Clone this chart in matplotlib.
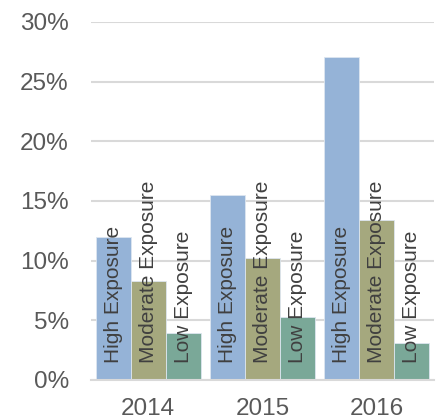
import numpy as np
import matplotlib.pyplot as plt
from matplotlib.ticker import FuncFormatter

plt.rcParams['font.family'] = ['Liberation Sans', 'DejaVu Sans']

years = ['2014', '2015', '2016']
series = ['High Exposure', 'Moderate Exposure', 'Low Exposure']
high = [0.120, 0.155, 0.271]
moderate = [0.083, 0.102, 0.134]
low = [0.039, 0.053, 0.031]
colors = ['#95b3d7', '#a5a87e', '#7aa898']

fig = plt.figure(figsize=(4.41, 4.16), dpi=100)
ax = fig.add_axes([91 / 441, 1 - 380 / 416, 343 / 441, 358 / 416])

x = np.arange(len(years))
w = 0.307
for i, (name, vals) in enumerate(zip(series, [high, moderate, low])):
    pos = x + (i - 1) * w
    ax.bar(pos, vals, width=w, color=colors[i], edgecolor='#dde6f0',
           linewidth=0.6, zorder=2)
    for p in pos:
        ax.text(p, 0.0145, name, rotation=90, ha='center', va='bottom',
                fontsize=15, color='#404040', zorder=3)

ax.set_xlim(-0.5, 2.5)
ax.set_ylim(0, 0.30)
ax.set_yticks(np.arange(0, 0.31, 0.05))
ax.yaxis.set_major_formatter(FuncFormatter(lambda v, _: f'{v * 100:.0f}%'))
ax.set_xticks(x)
ax.set_xticklabels(years)
ax.tick_params(axis='both', length=0, labelsize=17.5, colors='#595959')
ax.tick_params(axis='y', pad=16)
ax.tick_params(axis='x', pad=13)
ax.grid(axis='y', color='#d9d9d9', linewidth=1.5, zorder=0)
for s in ['top', 'right', 'left']:
    ax.spines[s].set_visible(False)
ax.spines['bottom'].set_color('#d9d9d9')
ax.spines['bottom'].set_linewidth(1.5)
ax.set_axisbelow(True)

fig.savefig('out.png', dpi=100)
